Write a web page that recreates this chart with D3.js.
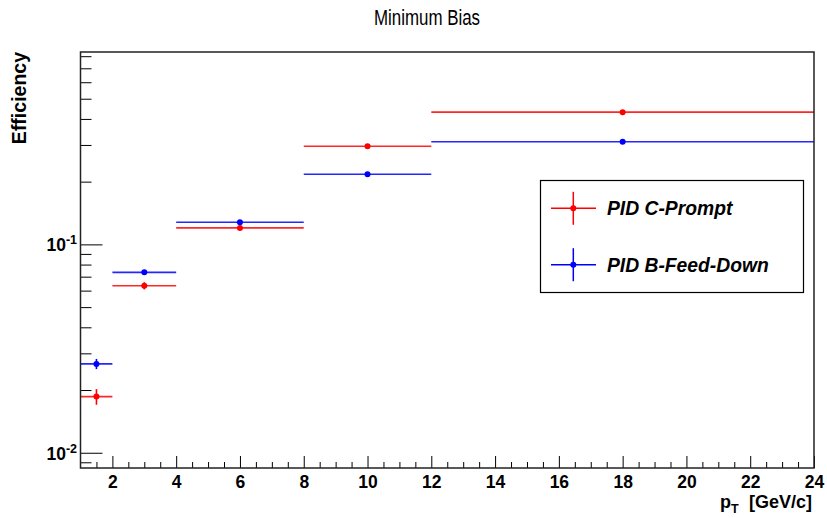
<!DOCTYPE html>
<html>
<head>
<meta charset="utf-8">
<script src="https://cdn.jsdelivr.net/npm/d3@7"></script>
<style>
  html, body { margin: 0; padding: 0; background: #fff; }
  svg { display: block; font-family: "Liberation Sans", Arial, Helvetica, sans-serif; }
</style>
</head>
<body>
<svg id="chart" width="827" height="518"></svg>
<script>
// ---- data ----
const binLow  = [1, 2, 4, 8, 12];
const binHigh = [2, 4, 8, 12, 24];
const binCenter = [1.5, 3, 6, 10, 18];
const promptEff = [0.0186, 0.0633, 0.120, 0.296, 0.431];
const promptErr = [0.0016, 0.0025, 0.0012, 0.002, 0.003];
const feedEff   = [0.0267, 0.0734, 0.1277, 0.217, 0.311];
const feedErr   = [0.0015, 0.0012, 0.0010, 0.0015, 0.002];
const seriesNames = ["PID C-Prompt", "PID B-Feed-Down"];
const seriesColors = ["#ff0000", "#0000ff"];
const xMajorTicks = [2, 4, 6, 8, 10, 12, 14, 16, 18, 20, 22, 24];
const yMajorTicks = [0.01, 0.1];
const yTickExp = ["-2", "-1"];
const xDomain = [1, 24];
const yDomain = [0.00845, 0.838];

// ---- layout ----
const L = 80.5, R = 814, T = 52, B = 468;
const svg = d3.select("#chart");
const x = d3.scaleLinear().domain(xDomain).range([L, R]);
const y = d3.scaleLog().domain(yDomain).range([B, T]);

// title
svg.append("text").attr("x", 427).attr("y", 25).attr("text-anchor", "middle")
  .attr("font-size", 22).attr("textLength", 106).attr("lengthAdjust", "spacingAndGlyphs")
  .attr("fill", "#000").text("Minimum Bias");

// x axis minor ticks
const xMinor = d3.range(1.5, 24, 0.5).filter(v => !xMajorTicks.includes(v));
const gxMinor = svg.append("g").attr("transform", `translate(0,${B})`)
  .call(d3.axisBottom(x).tickValues(xMinor).tickSize(-6).tickFormat(""));
const gx = svg.append("g").attr("transform", `translate(0,${B})`)
  .call(d3.axisBottom(x).tickValues(xMajorTicks).tickSize(-12).tickPadding(8).tickFormat(d3.format("d")));
gx.selectAll("text").attr("font-size", 17.5).attr("font-weight", "bold").attr("fill", "#000")
  .attr("font-family", "Liberation Sans, Arial, sans-serif");
[gx, gxMinor].forEach(g => { g.select(".domain").remove(); g.selectAll("line").attr("stroke", "#000").attr("stroke-width", 1); });

// y axis minor ticks
const yMinor = [];
[0.001, 0.01, 0.1].forEach(d => { for (let k = 2; k <= 9; k++) { const v = d * k; if (v >= yDomain[0] && v <= yDomain[1]) yMinor.push(v); } });
const gyMinor = svg.append("g").attr("transform", `translate(${L},0)`)
  .call(d3.axisLeft(y).tickValues(yMinor).tickSize(-11).tickFormat(""));
const gy = svg.append("g").attr("transform", `translate(${L},0)`)
  .call(d3.axisLeft(y).tickValues(yMajorTicks).tickSize(-22).tickFormat(""));
[gy, gyMinor].forEach(g => { g.select(".domain").remove(); g.selectAll("line").attr("stroke", "#000").attr("stroke-width", 1); });

// y tick labels 10^n
yMajorTicks.forEach((v, i) => {
  const t = svg.append("text").attr("x", 77).attr("y", y(v) + 7)
    .attr("text-anchor", "end").attr("font-size", 17.5).attr("font-weight", "bold").attr("fill", "#000");
  t.append("tspan").text("10");
  t.append("tspan").attr("dy", -7).attr("font-size", 12.5).text(yTickExp[i]);
});

// axis titles
const axTitle = (txt, xx, yy, fs) => svg.append("text").attr("x", xx).attr("y", yy)
  .attr("font-size", fs).attr("font-weight", "bold").attr("fill", "#000").text(txt);
axTitle("[GeV/c]", 812, 508, 18).attr("text-anchor", "end");
axTitle("T", 731, 513, 12.5);
axTitle("p", 720, 508, 18);

svg.append("text").attr("transform", "translate(26,52) rotate(-90)").attr("text-anchor", "end")
  .attr("font-size", 19.5).attr("font-weight", "bold").attr("fill", "#000").text("Efficiency");

// data
const series = [
  { eff: promptEff, err: promptErr, color: seriesColors[0] },
  { eff: feedEff, err: feedErr, color: seriesColors[1] }
];
const plot = svg.append("g");
series.forEach(s => {
  const g = plot.append("g");
  binCenter.forEach((c, i) => {
    g.append("line").attr("x1", x(binLow[i])).attr("x2", x(binHigh[i]))
      .attr("y1", y(s.eff[i])).attr("y2", y(s.eff[i]))
      .attr("stroke", s.color).attr("stroke-width", 1.6).attr("stroke-opacity", 0.85);
    g.append("line").attr("x1", x(c)).attr("x2", x(c))
      .attr("y1", y(s.eff[i] - s.err[i])).attr("y2", y(s.eff[i] + s.err[i]))
      .attr("stroke", s.color).attr("stroke-width", 1.6);
    g.append("circle").attr("cx", x(c)).attr("cy", y(s.eff[i])).attr("r", 3)
      .attr("fill", s.color);
  });
});

// frame
svg.append("rect").attr("x", L).attr("y", T).attr("width", R - L).attr("height", B - T)
  .attr("fill", "none").attr("stroke", "#222").attr("stroke-width", 1.5);

// legend
const lg = svg.append("g");
lg.append("rect").attr("x", 540.5).attr("y", 180.5).attr("width", 263).attr("height", 112)
  .attr("fill", "#fff").attr("stroke", "#000").attr("stroke-width", 1.2);
seriesNames.forEach((name, i) => {
  const cy = 208.3 + i * 56.4;
  const col = seriesColors[i];
  lg.append("line").attr("x1", 551).attr("x2", 596).attr("y1", cy).attr("y2", cy)
    .attr("stroke", col).attr("stroke-width", 1.5);
  lg.append("line").attr("x1", 573.3).attr("x2", 573.3).attr("y1", cy - 16.5).attr("y2", cy + 16.5)
    .attr("stroke", col).attr("stroke-width", 1.5);
  lg.append("circle").attr("cx", 573.3).attr("cy", cy).attr("r", 3).attr("fill", col);
  lg.append("text").attr("x", 607).attr("y", cy + 7).attr("font-size", 19.3)
    .attr("font-weight", "bold").attr("font-style", "italic").attr("fill", "#000").text(name);
});
</script>
</body>
</html>
